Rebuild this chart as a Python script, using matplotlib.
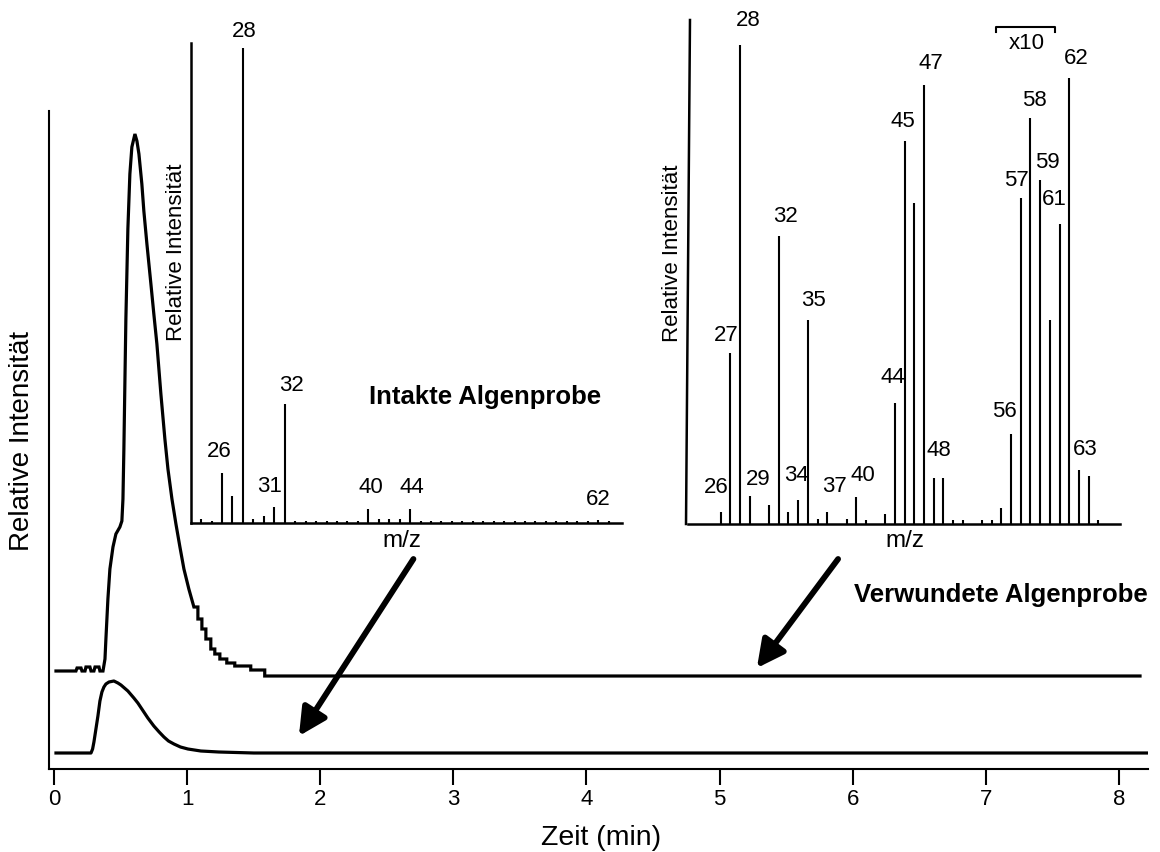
import matplotlib
matplotlib.use("Agg")
import matplotlib.pyplot as plt

plt.rcParams['font.family'] = ['Liberation Sans', 'DejaVu Sans']

# ---------------- data ----------------
# Total ion chromatograms (time in min, signal in arbitrary units)
t_wounded = [0.015, 0.165, 0.173, 0.203, 0.210, 0.233, 0.240, 0.270, 0.278, 0.300,
             0.308, 0.338, 0.345, 0.368, 0.383, 0.390, 0.405, 0.420, 0.443, 0.465,
             0.495, 0.510, 0.518, 0.525, 0.533, 0.540, 0.555, 0.570, 0.585, 0.608,
             0.623, 0.638, 0.660, 0.675, 0.698, 0.728, 0.750, 0.773, 0.803, 0.833,
             0.856, 0.886, 0.916, 0.946, 0.976, 1.013, 1.051, 1.081, 1.081, 1.111,
             1.111, 1.141, 1.141, 1.178, 1.178, 1.208, 1.208, 1.246, 1.246, 1.298,
             1.298, 1.358, 1.358, 1.478, 1.478, 1.583, 1.583, 8.158]
sig_wounded = [98, 98, 101, 101, 98, 98, 102, 102, 98, 98,
               102, 102, 98, 98, 110, 130, 170, 200, 222, 235,
               242, 248, 270, 320, 390, 450, 540, 595, 622, 635,
               628, 615, 585, 558, 525, 485, 455, 425, 375, 330,
               300, 270, 245, 222, 200, 180, 162, 162, 150, 150,
               140, 140, 130, 130, 120, 120, 115, 115, 110, 110,
               106, 106, 103, 103, 99, 99, 93, 93]

t_intact = [0.015, 0.278, 0.290, 0.300, 0.315, 0.330, 0.345, 0.360, 0.375, 0.390,
            0.413, 0.450, 0.480, 0.503, 0.555, 0.600, 0.630, 0.705, 0.750, 0.790,
            0.826, 0.860, 0.901, 0.950, 1.006, 1.103, 1.238, 1.501, 8.218]
sig_intact = [16, 16, 20, 27, 40, 53, 68, 77, 82, 85,
              87, 88, 86, 84, 78, 71, 66, 51, 43, 37,
              32, 28, 25, 22, 20, 18, 17, 16, 16]

# Mass spectra (relative intensity, m/z 28 = 100)
mz_intact = list(range(23, 64))
rel_intact = [0.4, 0.8, 0.4, 10.5, 5.7, 100, 0.8, 1.5, 3.4, 25.1,
              0.4, 0.4, 0.4, 0.4, 0.4, 0.4, 0.4, 2.9, 0.8, 0.8,
              0.8, 2.9, 0.4, 0.4, 0.4, 0.4, 0.4, 0.4, 0.4, 0.4,
              0.4, 0.4, 0.4, 0.4, 0.4, 0.4, 0.4, 0.4, 0.4, 0.6,
              0.4]
labels_intact = [26, 28, 31, 32, 40, 44, 62]

mz_wounded = [26, 27, 28, 29, 31, 32, 33, 34, 35, 36, 37, 39, 40, 41, 43, 44,
              45, 46, 47, 48, 49, 50, 51, 53, 54, 55, 56, 57, 58, 59, 60, 61,
              62, 63, 64, 65]
rel_wounded = [2.5, 35.7, 100, 5.8, 4.0, 60.1, 2.5, 5.0, 42.6, 1.0, 2.5, 1.0,
               5.6, 0.8, 2.1, 25.3, 80.0, 67.0, 91.6, 9.6, 9.6, 0.8, 0.8, 0.8,
               0.8, 3.3, 18.8, 68.1, 84.8, 71.8, 42.6, 62.6, 93.1, 11.3, 10.0, 0.8]
labels_wounded = [26, 27, 28, 29, 32, 34, 35, 37, 40, 44, 45, 47, 48, 56, 57,
                  58, 59, 61, 62, 63]
x10_range = (54.4, 60.5)

# ---------------- layout ----------------
W, H = 1160, 853
fig = plt.figure(figsize=(W / 100, H / 100), dpi=100)
fig.patch.set_facecolor('white')


def px_axes(x0, y0, x1, y1):
    """Axes from a pixel box given as left, top, right, bottom."""
    ax = fig.add_axes([x0 / W, 1 - y1 / H, (x1 - x0) / W, (y1 - y0) / H])
    ax.set_facecolor('none')
    return ax


# label offsets (pixels) of the peak numbers relative to the peak tops
off_intact = {26: (-3, 23), 28: (1, 17), 31: (-5, 21), 32: (7, 19),
              40: (3, 23), 44: (2, 23), 62: (0, 22)}
off_wounded = {26: (-4, 26), 27: (-4, 18), 28: (8, 25), 29: (8, 18),
               32: (7, 21), 34: (-2, 26), 35: (6, 20), 37: (7, 27),
               40: (7, 23), 44: (-2, 26), 45: (-2, 20), 47: (7, 23),
               48: (5, 29), 56: (-7, 23), 57: (-4, 18), 58: (4, 18),
               59: (7, 19), 61: (-5, 26), 62: (7, 20), 63: (6, 21)}

# ---------------- chromatograms ----------------
ax = px_axes(49, 112, 1148, 770)
ax.plot(t_wounded, sig_wounded, color='black', lw=2.3, solid_joinstyle='miter')
ax.plot(t_intact, sig_intact, color='black', lw=2.3, solid_joinstyle='round')
ax.set_xlim(-0.0375, 8.218)
ax.set_ylim(0, 658)
ax.set_xticks(range(9))
ax.set_yticks([])
ax.tick_params(axis='x', length=11.5, width=1.5, labelsize=16, pad=2.5)
for s in ('top', 'right'):
    ax.spines[s].set_visible(False)
for s in ('left', 'bottom'):
    ax.spines[s].set_linewidth(1.5)
ax.set_xlabel('Zeit (min)', fontsize=20.5)
ax.xaxis.set_label_coords(0.5023, -0.1033)
ax.xaxis.label.set_va('center')
ax.set_ylabel('Relative Intensität', fontsize=20)
ax.yaxis.set_label_coords(-0.0246, 0.5)
ax.yaxis.label.set_va('center')

arrow = dict(arrowstyle='-|>,head_length=0.55,head_width=0.28', lw=4.2,
             color='black', mutation_scale=30, shrinkA=0, shrinkB=0)
ax.annotate('', xy=(1.84, 33), xytext=(2.70, 210), arrowprops=arrow)
ax.annotate('', xy=(5.28, 101), xytext=(5.89, 210), arrowprops=arrow)
ax.text(7.11, 175, 'Verwundete Algenprobe', fontsize=18.5, fontweight='bold',
        ha='center', va='center')


def spectrum(axs, mz, rel, labels, offsets, xlim, ylim):
    axs.vlines(mz, 0, rel, color='black', lw=1.5)
    axs.set_xlim(*xlim)
    axs.set_ylim(*ylim)
    axs.set_xticks([])
    axs.set_yticks([])
    for s in ('top', 'right'):
        axs.spines[s].set_visible(False)
    for s in ('left', 'bottom'):
        axs.spines[s].set_linewidth(1.8)
    for m in labels:
        h = rel[mz.index(m)]
        dx, dy = offsets[m]
        axs.annotate(str(m), xy=(m, h), xytext=(dx, dy),
                     textcoords='offset pixels', ha='center', va='center',
                     fontsize=16)


# ---------------- mass spectrum, intact sample ----------------
ax1 = px_axes(191, 44, 622, 524)
spectrum(ax1, mz_intact, rel_intact, labels_intact, off_intact,
         (23.03, 64.28), (0, 101))
ax1.set_xlabel('m/z', fontsize=17.5)
ax1.xaxis.set_label_coords(0.4896, -0.0354)
ax1.xaxis.label.set_va('center')
ax1.set_ylabel('Relative Intensität', fontsize=16)
ax1.yaxis.set_label_coords(-0.0348, 0.5667)
ax1.yaxis.label.set_va('center')
ax1.text(0.682, 0.265, 'Intakte Algenprobe', transform=ax1.transAxes,
         fontsize=18.5, fontweight='bold', ha='center', va='center')

# ---------------- mass spectrum, wounded sample ----------------
ax2 = px_axes(688, 21, 1120, 525)
spectrum(ax2, mz_wounded, rel_wounded, labels_wounded, off_wounded,
         (22.62, 67.25), (0, 105.2))
# hand-drawn, slightly leaning intensity axis
ax2.spines['left'].set_visible(False)
ax2.plot([-0.0046, 0.0046], [0, 1], transform=ax2.transAxes, color='black',
         lw=1.8, clip_on=False, solid_capstyle='projecting')
ax2.set_xlabel('m/z', fontsize=17.5)
ax2.xaxis.set_label_coords(0.5023, -0.0317)
ax2.xaxis.label.set_va('center')
ax2.set_ylabel('Relative Intensität', fontsize=16)
ax2.yaxis.set_label_coords(-0.037, 0.5397)
ax2.yaxis.label.set_va('center')
x0, x1 = x10_range
ax2.plot([x0, x0, x1, x1], [102.7, 103.8, 103.8, 102.7], color='black',
         lw=1.5, clip_on=False)
ax2.text((x0 + x1) / 2 + 0.15, 100.6, 'x10', fontsize=16,
         ha='center', va='center')

fig.savefig('out.png', dpi=100, facecolor='white')
